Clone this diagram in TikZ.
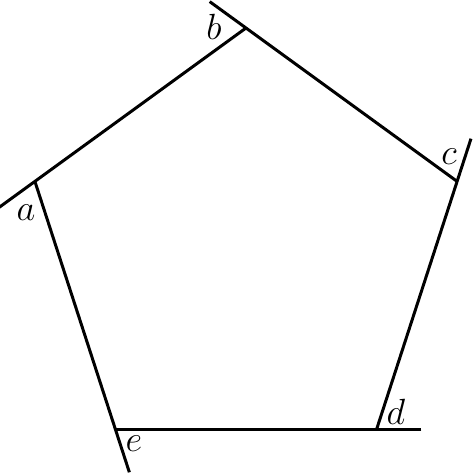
\documentclass[tikz,border=0pt]{standalone}
\usetikzlibrary{calc}
\begin{document}
\begin{tikzpicture}[x=0.02cm,y=-0.02cm,
  side/.style={line width=1.7pt,line cap=butt},
  lbl/.style={inner sep=0pt,font=\fontsize{21}{23}\selectfont}]
\useasboundingbox (0,0) rectangle (474,475);
\coordinate (b) at (246,28);
\coordinate (c) at (457.1,181.4);
\coordinate (d) at (376.5,429.6);
\coordinate (e) at (115.5,429.6);
\coordinate (a) at (34.9,181.4);
\draw[side] ($(a)!-0.172!(b)$) -- (b);
\draw[side] ($(b)!-0.172!(c)$) -- (c);
\draw[side] ($(c)!-0.172!(d)$) -- (d);
\draw[side] ($(d)!-0.172!(e)$) -- (e);
\draw[side] ($(e)!-0.172!(a)$) -- (a);
\node[lbl] (la) at (26,213) {$a$};
\node[lbl] (lb) at (214,27) {$b$};
\node[lbl] (lc) at (449,157) {$c$};
\node[lbl] (ld) at (396,412) {$d$};
\node[lbl] (le) at (134,444) {$e$};
\end{tikzpicture}
\end{document}
